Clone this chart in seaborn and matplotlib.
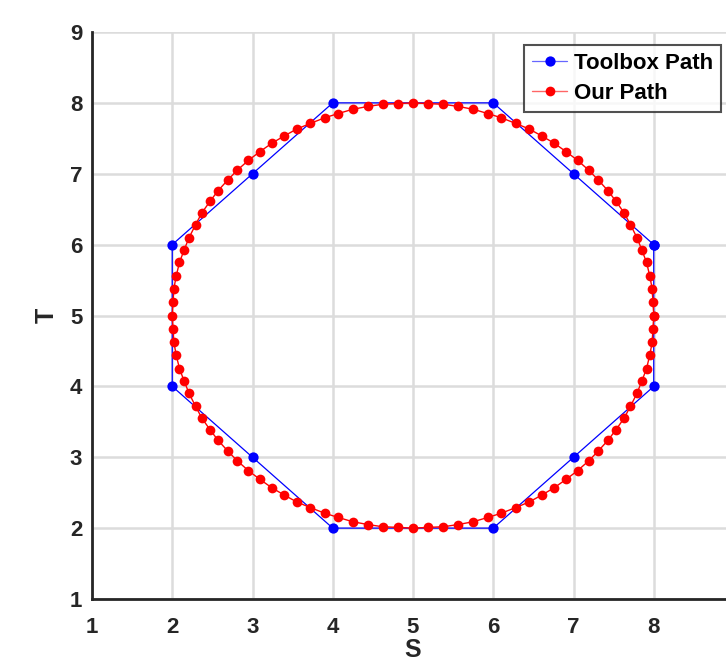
import matplotlib
matplotlib.use("Agg")
import matplotlib.pyplot as plt
import seaborn as sns
import pandas as pd

# Toolbox path (octagon vertices)
toolbox_s = [8, 7, 6, 4, 3, 2, 2, 3, 4, 6, 7, 8, 8]
toolbox_t = [6, 7, 8, 8, 7, 6, 4, 3, 2, 2, 3, 4, 6]

# Our path (points read around the circle)
our_s = [8.00, 7.99, 7.98, 7.95, 7.91, 7.85, 7.79, 7.71, 7.63, 7.53, 7.43, 7.31, 7.19,
         7.05, 6.91, 6.76, 6.61, 6.45, 6.28, 6.10, 5.93, 5.75, 5.56, 5.38, 5.19,
         5.00, 4.81, 4.62, 4.44, 4.25, 4.07, 3.90, 3.72, 3.55, 3.39, 3.24, 3.09, 2.95,
         2.81, 2.69, 2.57, 2.47, 2.37, 2.29, 2.21, 2.15, 2.09, 2.05, 2.02, 2.01,
         2.00, 2.01, 2.02, 2.05, 2.09, 2.15, 2.21, 2.29, 2.37, 2.47, 2.57, 2.69, 2.81,
         2.95, 3.09, 3.24, 3.39, 3.55, 3.72, 3.90, 4.07, 4.25, 4.44, 4.62, 4.81,
         5.00, 5.19, 5.38, 5.56, 5.75, 5.93, 6.10, 6.28, 6.45, 6.61, 6.76, 6.91, 7.05,
         7.19, 7.31, 7.43, 7.53, 7.63, 7.71, 7.79, 7.85, 7.91, 7.95, 7.98, 7.99,
         8.00]
our_t = [5.00, 5.19, 5.38, 5.56, 5.75, 5.93, 6.10, 6.28, 6.45, 6.61, 6.76, 6.91, 7.05,
         7.19, 7.31, 7.43, 7.53, 7.63, 7.71, 7.79, 7.85, 7.91, 7.95, 7.98, 7.99,
         8.00, 7.99, 7.98, 7.95, 7.91, 7.85, 7.79, 7.71, 7.63, 7.53, 7.43, 7.31, 7.19,
         7.05, 6.91, 6.76, 6.61, 6.45, 6.28, 6.10, 5.93, 5.75, 5.56, 5.38, 5.19,
         5.00, 4.81, 4.62, 4.44, 4.25, 4.07, 3.90, 3.72, 3.55, 3.39, 3.24, 3.09, 2.95,
         2.81, 2.69, 2.57, 2.47, 2.37, 2.29, 2.21, 2.15, 2.09, 2.05, 2.02, 2.01,
         2.00, 2.01, 2.02, 2.05, 2.09, 2.15, 2.21, 2.29, 2.37, 2.47, 2.57, 2.69, 2.81,
         2.95, 3.09, 3.24, 3.39, 3.55, 3.72, 3.90, 4.07, 4.25, 4.44, 4.62, 4.81,
         5.00]

x_ticks = [1, 2, 3, 4, 5, 6, 7, 8]
y_ticks = [1, 2, 3, 4, 5, 6, 7, 8, 9]

sns.set_style("white")
plt.rcParams['font.family'] = ['Liberation Sans', 'DejaVu Sans']
plt.rcParams['font.weight'] = 'bold'

W, H = 726, 664
fig = plt.figure(figsize=(W / 100, H / 100), dpi=100)
ax = fig.add_axes([92 / W, (H - 599) / H, (734 - 92) / W, (599 - 32) / H])

df_tb = pd.DataFrame({"S": toolbox_s, "T": toolbox_t})
df_our = pd.DataFrame({"S": our_s, "T": our_t})

sns.lineplot(data=df_tb, x="S", y="T", sort=False, estimator=None, ax=ax,
             color="#0000ff", linewidth=0.9, marker="o", markersize=7.4,
             markeredgewidth=0, label="Toolbox Path", zorder=3)
sns.lineplot(data=df_our, x="S", y="T", sort=False, estimator=None, ax=ax,
             color="#ff0000", linewidth=1.0, marker="o", markersize=7.0,
             markeredgewidth=0, label="Our Path", zorder=4)

ax.set_xlim(1, 9)
ax.set_ylim(1, 9)
ax.set_xticks(x_ticks)
ax.set_yticks(y_ticks)
ax.set_xticklabels([str(v) for v in x_ticks])
ax.set_yticklabels([str(v) for v in y_ticks])
ax.grid(True, color="#dcdcdc", linewidth=1.8)
ax.set_axisbelow(True)

for side in ["top", "right"]:
    ax.spines[side].set_visible(False)
for side in ["left", "bottom"]:
    ax.spines[side].set_color("#262626")
    ax.spines[side].set_linewidth(2.0)

ax.tick_params(axis="both", direction="in", length=5, width=2, color="#262626",
               labelsize=16, labelcolor="#262626")
ax.tick_params(axis="x", pad=13)
ax.tick_params(axis="y", pad=7)
for lab in ax.get_xticklabels() + ax.get_yticklabels():
    lab.set_fontweight("bold")

ax.set_xlabel("S", fontsize=18, fontweight="bold", color="#262626", labelpad=0)
ax.set_ylabel("T", fontsize=18, fontweight="bold", color="#262626", labelpad=8)

leg = ax.legend(loc="upper right", bbox_to_anchor=(721 / W, (H - 45) / H),
                bbox_transform=fig.transFigure, frameon=True, fancybox=False,
                edgecolor="#262626", fontsize=16, handlelength=1.6,
                borderpad=0.35, labelspacing=0.42, handletextpad=0.3,
                borderaxespad=0)
leg.get_frame().set_linewidth(1.5)
for t in leg.get_texts():
    t.set_fontweight("bold")
    t.set_color("black")
for h in leg.legend_handles:
    h.set_alpha(None)
leg.legend_handles[1].set_color("#ff6666")
leg.legend_handles[1].set_markerfacecolor("#ff0000")
leg.legend_handles[0].set_color("#6666ff")
leg.legend_handles[0].set_markerfacecolor("#0000ff")

fig.savefig("out.png", dpi=100)
